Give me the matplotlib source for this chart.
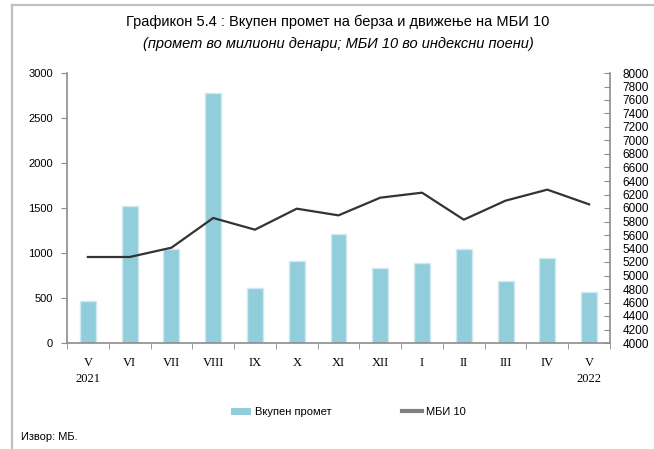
import numpy as np
import matplotlib
matplotlib.use("Agg")
import matplotlib.pyplot as plt
from matplotlib.lines import Line2D
from matplotlib.patches import Patch

# =========================
# DATA
# =========================
months = ["V", "VI", "VII", "VIII", "IX", "X", "XI", "XII", "I", "II", "III", "IV", "V"]
years = ["2021", "", "", "", "", "", "", "", "", "", "", "", "2022"]
turnover = [470, 1526, 1048, 2783, 607, 912, 1213, 831, 890, 1048, 687, 941, 566]
mbi10 = [5274, 5274, 5412, 5852, 5679, 5990, 5891, 6153, 6227, 5827, 6109, 6272, 6054]

left_ticks = [0, 500, 1000, 1500, 2000, 2500, 3000]
right_ticks = list(range(4000, 8001, 200))

title1 = "Графикон 5.4 : Вкупен промет на берза и движење на МБИ 10"
title2 = "(промет во милиони денари; МБИ 10 во индексни поени)"
source = "Извор: МБ."

bar_color = "#92CDDC"
line_color = "#333333"
axis_color = "#8c8c8c"

plt.rcParams["font.family"] = ["Liberation Sans", "DejaVu Sans"]

# =========================
# FIGURE
# =========================
fig = plt.figure(figsize=(6.54, 4.49), dpi=100)
ax = fig.add_axes([67 / 654, 1 - 343 / 449, (610 - 67) / 654, (343 - 73) / 449])
ax2 = ax.twinx()

x = np.arange(len(months))
ax.bar(x, turnover, width=0.38, color=bar_color, edgecolor="#cfe9f0", linewidth=1.0, zorder=2)
ax2.plot(x, mbi10, color=line_color, linewidth=1.6, zorder=3)

ax.set_xlim(-0.5, len(months) - 0.5)
ax.set_ylim(0, 3000)
ax2.set_ylim(4000, 8000)

ax.set_yticks(left_ticks)
ax2.set_yticks(right_ticks)

# x labels: month + year below
ax.set_xticks(x)
ax.set_xticklabels([m + "\n" + y if y else m for m, y in zip(months, years)],
                   family=["Liberation Serif", "DejaVu Serif"], fontsize=9, linespacing=1.5)
ax.tick_params(axis="x", length=0, pad=10)
ax.set_xticks(np.arange(-0.5, len(months), 1), minor=True)
ax.tick_params(axis="x", which="minor", length=4, direction="out", color=axis_color)

ax.tick_params(axis="y", length=4, direction="out", color=axis_color, labelsize=8, pad=6)
ax2.tick_params(axis="y", length=4, direction="in", color=axis_color, labelsize=8.5, pad=9)

for a in (ax, ax2):
    a.spines["top"].set_visible(False)
    for s in ("left", "right", "bottom"):
        a.spines[s].set_color(axis_color)
        a.spines[s].set_linewidth(1.2)
ax.spines["right"].set_visible(False)
ax2.spines["left"].set_visible(False)
ax2.spines["bottom"].set_visible(False)
ax.set_zorder(ax2.get_zorder() - 1)
ax2.patch.set_visible(False)

# =========================
# TITLES, LEGEND, SOURCE
# =========================
fig.text(0.516, 1 - 22 / 449, title1, ha="center", va="center", fontsize=10.5)
fig.text(0.518, 1 - 44 / 449, title2, ha="center", va="center", fontsize=10.5, style="italic")

handles = [Patch(facecolor=bar_color, edgecolor="none"),
           Line2D([0], [0], color="#808080", linewidth=3)]
fig.legend(handles, ["Вкупен промет", "МБИ 10"], loc="center", bbox_to_anchor=(0.533, 1 - 412 / 449),
           ncol=2, frameon=False, fontsize=8, handlelength=1.8, handleheight=0.6,
           columnspacing=6.3, handletextpad=0.4)

fig.text(21 / 654, 1 - 437 / 449, source, ha="left", va="center", fontsize=8)

# outer frame (top and left edge)
fig.add_artist(Line2D([12 / 654, 1], [1 - 5 / 449, 1 - 5 / 449], color="#c0c0c0", linewidth=1.6))
fig.add_artist(Line2D([12 / 654, 12 / 654], [0, 1 - 5 / 449], color="#c0c0c0", linewidth=1.6))

fig.savefig("out.png", dpi=100)
